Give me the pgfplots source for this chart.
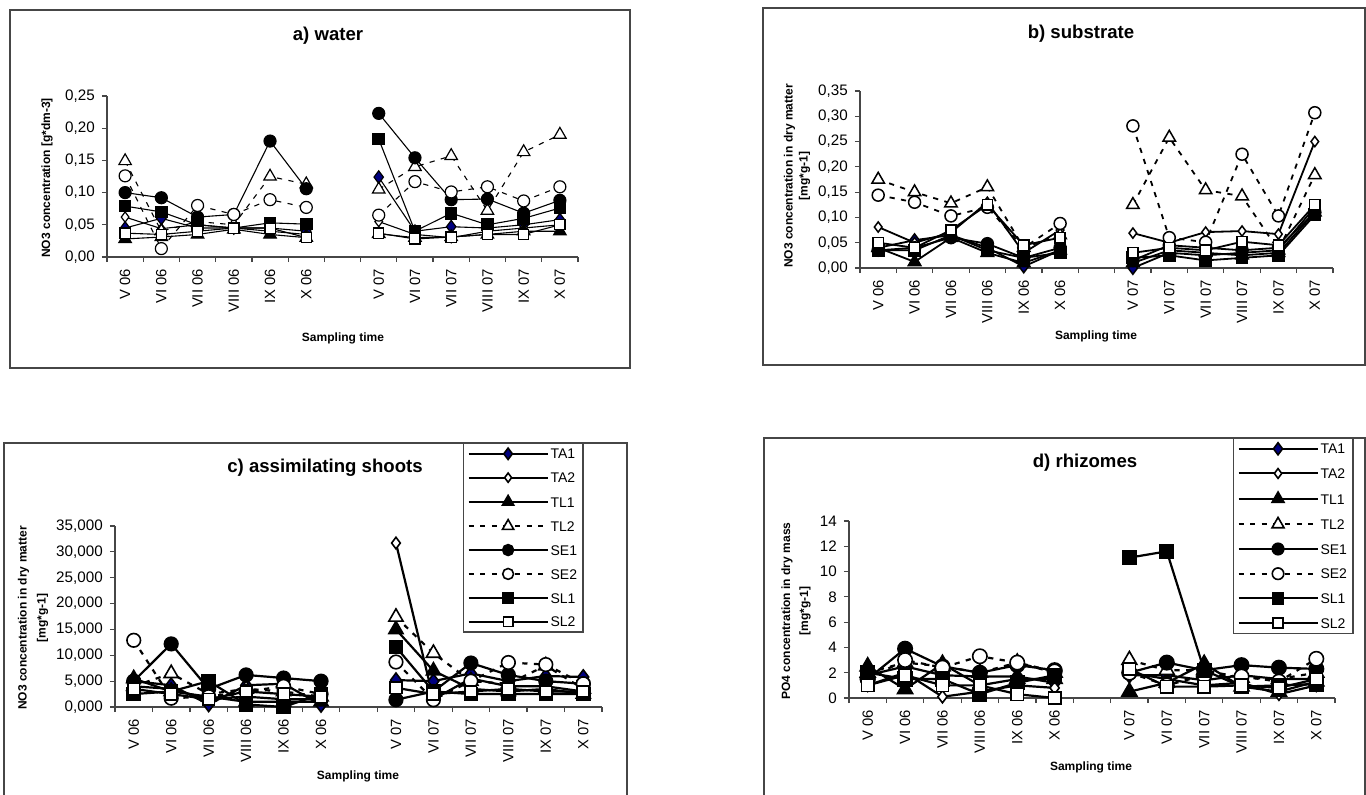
\documentclass[border=0pt]{standalone}
\usepackage{pgfplots}
\pgfplotsset{compat=1.18}
\usepackage{pgfplotstable}
\usepackage{fontspec}
\setmainfont{Liberation Sans}
\definecolor{navyc}{RGB}{0,0,128}
\definecolor{framec}{RGB}{70,70,70}

% a) water
\pgfplotstableread{
x TA1 TA2 TL1 TL2 SE1 SE2 SL1 SL2
0 0.045 0.062 0.028 0.149 0.100 0.126 0.079 0.037
1 0.060 0.044 0.031 0.040 0.092 0.013 0.070 0.035
2 0.045 0.050 0.035 0.055 0.062 0.080 0.050 0.040
3 0.045 0.045 0.043 0.050 0.066 0.066 0.045 0.045
4 0.045 0.040 0.035 0.125 0.180 0.089 0.053 0.045
5 0.040 0.035 0.030 0.113 0.106 0.077 0.051 0.030
6 nan nan nan nan nan nan nan nan
7 0.124 0.055 0.036 0.105 0.223 0.065 0.183 0.037
8 0.040 0.035 0.030 0.140 0.154 0.117 0.040 0.028
9 0.047 0.030 0.031 0.157 0.089 0.101 0.068 0.031
10 0.045 0.040 0.035 0.072 0.090 0.109 0.050 0.035
11 0.050 0.045 0.040 0.163 0.068 0.087 0.060 0.035
12 0.058 0.050 0.040 0.190 0.088 0.109 0.076 0.050
}\tabA
% b) substrate
\pgfplotstableread{
x TA1 TA2 TL1 TL2 SE1 SE2 SL1 SL2
0 0.040 0.081 0.040 0.175 0.035 0.144 0.035 0.050
1 0.055 0.050 0.012 0.150 0.040 0.130 0.035 0.040
2 0.065 0.070 0.060 0.128 0.060 0.103 0.065 0.075
3 0.040 0.130 0.030 0.160 0.048 0.120 0.035 0.125
4 0.003 0.030 0.010 0.040 0.020 0.040 0.020 0.045
5 0.035 0.075 0.035 0.065 0.040 0.088 0.030 0.060
6 nan nan nan nan nan nan nan nan
7 0.000 0.069 0.010 0.125 0.015 0.281 0.020 0.030
8 0.030 0.050 0.035 0.258 0.045 0.060 0.025 0.040
9 0.025 0.071 0.030 0.154 0.040 0.051 0.015 0.035
10 0.030 0.073 0.025 0.142 0.035 0.225 0.020 0.052
11 0.035 0.067 0.030 0.035 0.040 0.103 0.025 0.045
12 0.120 0.250 0.110 0.184 0.110 0.307 0.105 0.125
}\tabB
% c) assimilating shoots
\pgfplotstableread{
x TA1 TA2 TL1 TL2 SE1 SE2 SL1 SL2
0 5.0 4.0 5.5 4.0 5.0 12.9 2.5 3.5
1 4.2 3.5 3.0 6.5 12.2 1.7 3.0 2.5
2 0.5 1.5 2.0 2.5 3.5 2.0 5.0 1.5
3 4.2 2.0 1.0 3.5 6.2 3.0 0.5 3.0
4 4.5 1.5 1.0 3.0 5.6 4.0 0.0 2.5
5 0.4 1.5 1.0 2.0 5.0 2.5 2.5 2.0
6 nan nan nan nan nan nan nan nan
7 5.2 31.7 15.0 17.4 1.4 8.7 11.6 3.7
8 5.0 1.5 7.0 10.4 3.0 1.4 3.0 2.5
9 6.5 5.5 3.5 5.0 8.5 5.0 2.5 3.0
10 5.0 4.0 3.0 4.5 6.2 8.6 2.5 3.5
11 6.0 4.0 3.5 8.0 5.0 8.2 2.5 3.0
12 5.8 3.0 2.5 3.5 4.5 4.5 2.5 3.0
}\tabC
% d) rhizomes
\pgfplotstableread{
x TA1 TA2 TL1 TL2 SE1 SE2 SL1 SL2
0 1.8 1.0 2.5 2.0 1.5 1.5 2.0 1.0
1 2.5 2.0 0.7 2.8 3.9 3.0 1.5 1.8
2 1.8 0.1 2.7 2.5 2.5 2.4 1.5 1.0
3 1.7 0.5 1.0 2.0 2.0 3.3 0.3 1.0
4 1.7 1.0 1.5 2.8 2.6 2.8 1.2 0.3
5 1.2 0.8 1.5 2.0 2.2 2.1 1.8 0.0
6 nan nan nan nan nan nan nan nan
7 1.8 2.0 0.5 3.0 2.0 2.0 11.1 2.3
8 1.8 1.5 1.2 2.2 2.8 1.0 11.6 0.9
9 1.4 1.0 2.7 2.2 2.2 1.8 2.2 0.9
10 1.8 1.2 0.9 1.6 2.6 1.7 0.9 1.0
11 1.5 0.3 0.5 1.5 2.4 1.3 1.0 0.8
12 1.5 1.0 1.3 2.0 2.3 3.1 1.1 1.5
}\tabD

\def\ms{3pt}
\def\lw{0.6pt}
\def\mlw{0.6pt}
\pgfplotsset{
  dsh/.style={dash pattern=on 2.6pt off 3.2pt},
  mk/.style={mark options={solid, line width=\mlw, draw=black, fill=#1}},
  sTA1/.style={black, solid, mark=diamond*, mark size=1.05*\ms, mk=navyc},
  sTA2/.style={black, solid, mark=diamond*, mark size=0.85*\ms, mk=white},
  sTL1/.style={black, solid, mark=triangle*, mark size=1.2*\ms, mk=black},
  sTL2/.style={black, dsh, mark=triangle*, mark size=1.2*\ms, mk=white},
  sSE1/.style={black, solid, mark=*, mark size=\ms, mk=black},
  sSE2/.style={black, dsh, mark=*, mark size=\ms, mk=white},
  sSL1/.style={black, solid, mark=square*, mark size=0.95*\ms, mk=black},
  sSL2/.style={black, solid, mark=square*, mark size=0.85*\ms, mk=white},
  panel/.style={
    scale only axis, clip=false,
    axis x line*=bottom, axis y line*=left,
    axis line style={framec, line width=0.6pt},
    xmin=-0.5, xmax=12.5,
    xtick={0,1,2,3,4,5,7,8,9,10,11,12},
    xticklabels={V 06,VI 06,VII 06,VIII 06,IX 06,X 06,V 07,VI 07,VII 07,VIII 07,IX 07,X 07},
    minor xtick={-0.5,0.5,...,12.5},
    tick align=outside,
    major tick length=2.6pt, minor tick length=2.6pt,
    tick style={framec, line width=0.6pt},
    major x tick style={draw=none},
    x tick label style={rotate=90, anchor=east, font=\fontsize{7.4}{9}\selectfont},
    y tick label style={font=\fontsize{7.6}{9}\selectfont},
    unbounded coords=jump,
    every axis plot/.append style={line width=\lw},
    /pgf/number format/assume math mode=true,
  },
  legstyle/.style={
    legend style={at={(#1)}, anchor=north west, draw=framec, line width=0.6pt, fill=white,
      inner xsep=2pt, inner ysep=2pt, row sep=5.75pt,
      font=\fontsize{7}{8}\selectfont,
      nodes={inner xsep=1pt, inner ysep=0.5pt, text height=5.2pt, text depth=0pt}},
    legend cell align=left,
    legend image code/.code={\draw[mark repeat=2, mark phase=2, line width=1pt, mark size=0.8*\pgfplotmarksize] plot coordinates {(0pt,0pt) (19.75pt,0pt) (39.5pt,0pt)};},
  },
}
\newcommand\plotall[1]{%
  \addplot[sTA1] table[x=x,y=TA1]{#1};
  \addplot[sTA2] table[x=x,y=TA2]{#1};
  \addplot[sTL1] table[x=x,y=TL1]{#1};
  \addplot[sTL2] table[x=x,y=TL2]{#1};
  \addplot[sSE1] table[x=x,y=SE1]{#1};
  \addplot[sSE2] table[x=x,y=SE2]{#1};
  \addplot[sSL1] table[x=x,y=SL1]{#1};
  \addplot[sSL2] table[x=x,y=SL2]{#1};
}

\begin{document}
\begin{tikzpicture}[x=0.5pt,y=-0.5pt]
\path[use as bounding box] (0,0) rectangle (1366,795);
% frames
\draw[framec, line width=0.75pt] (10,10) rectangle (630,368);
\draw[framec, line width=0.75pt] (763,8) rectangle (1365,365);
\draw[framec, line width=0.75pt] (4,800) -- (4,443) -- (627,443) -- (627,800);
\draw[framec, line width=0.75pt] (764,800) -- (764,438) -- (1365,438) -- (1365,800);
\coordinate (pa) at (107,257);
\coordinate (pb) at (860,268);
\coordinate (pc) at (115,707);
\coordinate (pd) at (849,698);

% a) water
\def\ms{3pt}\def\lw{0.55pt}\def\mlw{0.6pt}
\begin{axis}[panel, at={(pa)}, anchor=south west, width=235.5pt, height=80.5pt,
  ymin=0, ymax=0.25, ytick={0,0.05,0.1,0.15,0.2,0.25},
  yticklabel style={/pgf/number format/.cd, use comma, fixed, fixed zerofill, precision=2}]
\plotall{\tabA}
\end{axis}

% b) substrate
\def\ms{3pt}\def\lw{0.9pt}\def\mlw{0.75pt}
\begin{axis}[panel, at={(pb)}, anchor=south west, width=236.5pt, height=88.5pt,
  ymin=0, ymax=0.35, ytick={0,0.05,0.1,0.15,0.2,0.25,0.3,0.35},
  yticklabel style={/pgf/number format/.cd, use comma, fixed, fixed zerofill, precision=2}]
\plotall{\tabB}
\end{axis}

% c) assimilating shoots
\def\ms{3.4pt}\def\lw{1.1pt}\def\mlw{0.8pt}
\begin{axis}[panel, at={(pc)}, anchor=south west, width=243.5pt, height=90.5pt,
  ymin=0, ymax=35, ytick={0,5,10,15,20,25,30,35},
  yticklabel style={/pgf/number format/.cd, use comma, fixed, fixed zerofill, precision=3, 1000 sep={}},
  legstyle={0.7146,1.4586}]
\plotall{\tabC}
\legend{TA1,TA2,TL1,TL2,SE1,SE2,SL1,SL2}
\end{axis}

% d) rhizomes
\def\ms{3.6pt}\def\lw{1.1pt}\def\mlw{0.8pt}
\begin{axis}[panel, at={(pd)}, anchor=south west, width=243pt, height=88.5pt,
  ymin=0, ymax=14, ytick={0,2,4,6,8,10,12,14},
  yticklabel style={/pgf/number format/.cd, fixed, precision=0},
  legstyle={0.790,1.469}, legend style={row sep=6.15pt}]
\plotall{\tabD}
\legend{TA1,TA2,TL1,TL2,SE1,SE2,SL1,SL2}
\end{axis}

% titles
\node[font=\fontsize{9.3}{11}\selectfont\bfseries] at (328,36) {a) water};
\node[font=\fontsize{9.3}{11}\selectfont\bfseries] at (1081,34) {b) substrate};
\node[font=\fontsize{9.3}{11}\selectfont\bfseries] at (325,468) {c) assimilating shoots};
\node[font=\fontsize{9.3}{11}\selectfont\bfseries] at (1085,463) {d) rhizomes};
% x labels
\node[font=\fontsize{6}{7}\selectfont\bfseries] at (343,338) {Sampling time};
\node[font=\fontsize{6}{7}\selectfont\bfseries] at (1096,336) {Sampling time};
\node[font=\fontsize{6}{7}\selectfont\bfseries] at (358,776) {Sampling time};
\node[font=\fontsize{6}{7}\selectfont\bfseries] at (1091,767) {Sampling time};
% y labels
\node[font=\fontsize{6}{7.5}\selectfont\bfseries, rotate=90] at (47,178) {NO3 concentration [g*dm-3]};
\node[font=\fontsize{6}{7.5}\selectfont\bfseries, rotate=90, align=center] at (797,176) {NO3 concentration in dry matter\\{}[mg*g-1]};
\node[font=\fontsize{6}{9.5}\selectfont\bfseries, rotate=90, align=center] at (33,618) {NO3 concentration in dry matter\\{}[mg*g-1]};
\node[font=\fontsize{6}{9}\selectfont\bfseries, rotate=90, align=center] at (796,611) {PO4 concentration in dry mass\\{}[mg*g-1]};
\end{tikzpicture}
\end{document}
